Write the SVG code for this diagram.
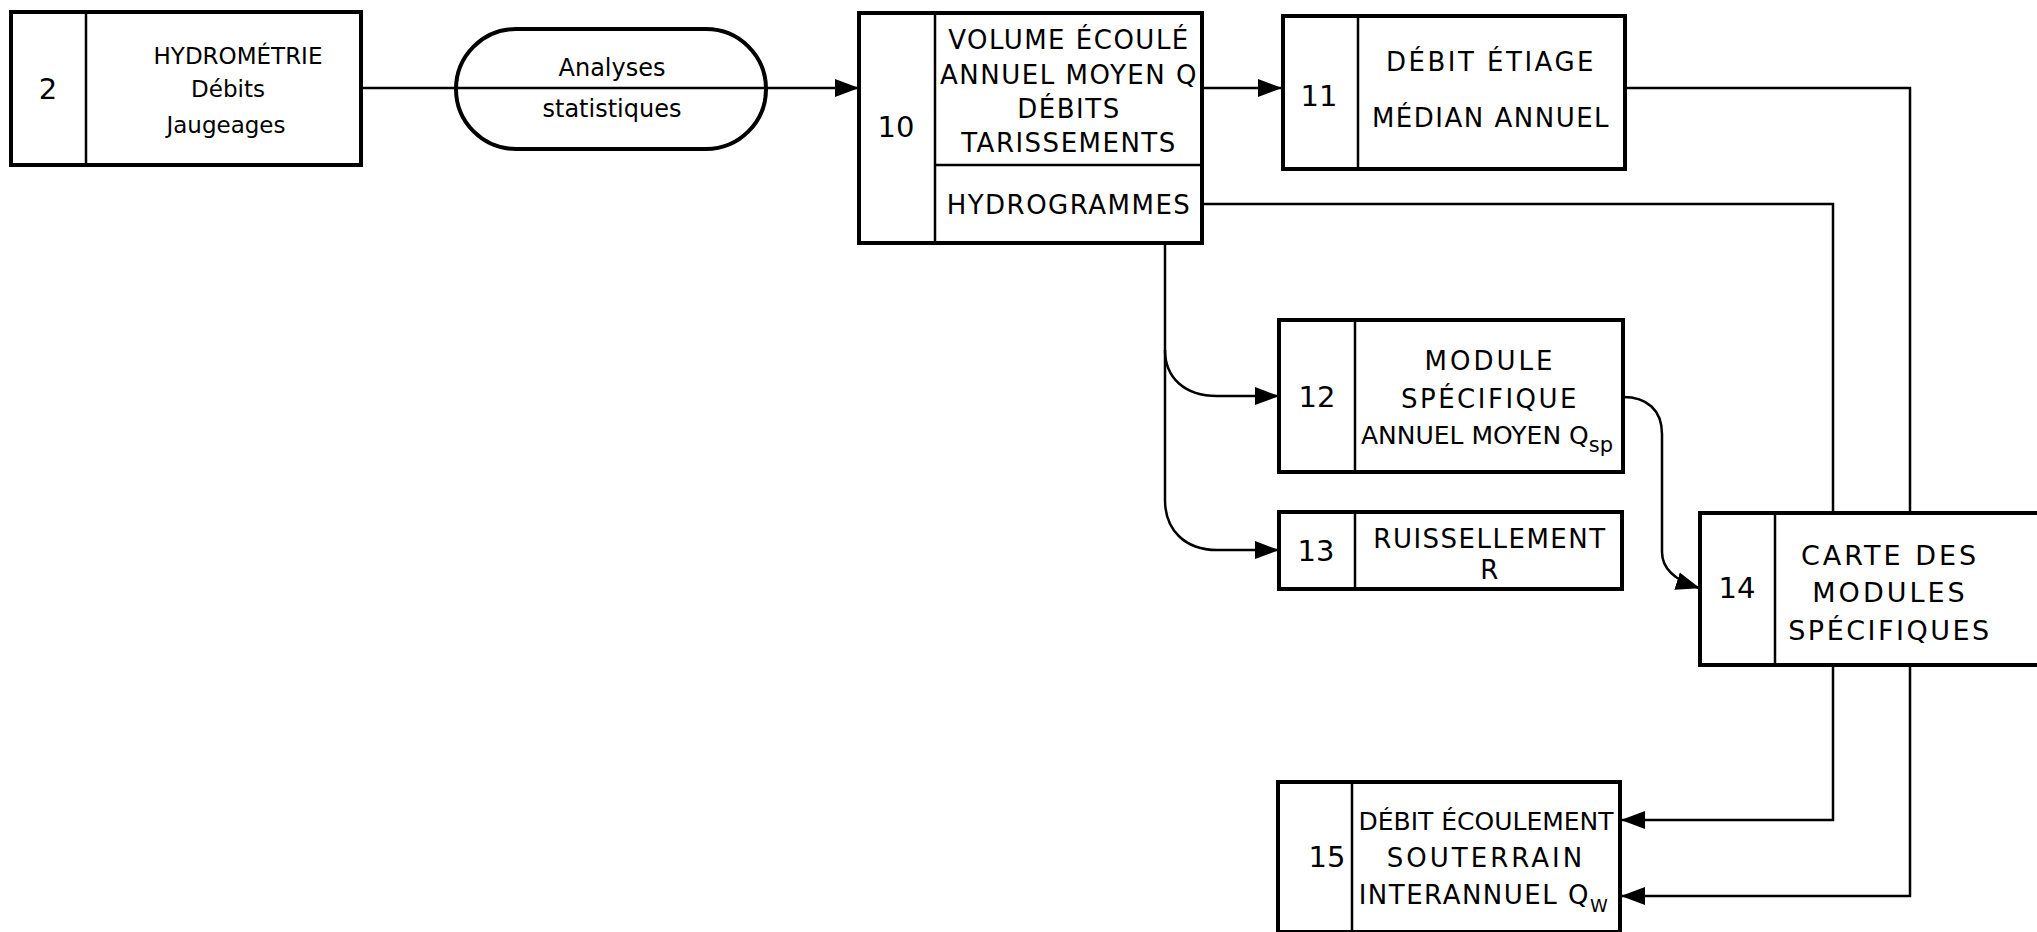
<svg xmlns="http://www.w3.org/2000/svg" width="2037" height="932" viewBox="0 0 2037 932">
<defs>
<style>
.box{fill:#fff;stroke:#000;stroke-width:4}
.div{stroke:#000;stroke-width:2.5;fill:none}
.con{stroke:#000;stroke-width:2.5;fill:none}
.t{font-family:"DejaVu Sans",sans-serif;font-size:26px;fill:#000;text-anchor:middle;letter-spacing:1.5px}
.s{font-family:"DejaVu Sans",sans-serif;font-size:22px;fill:#000;text-anchor:middle}
.n{font-family:"DejaVu Sans",sans-serif;font-size:29px;fill:#000;text-anchor:middle}
</style>
<marker id="ah" markerUnits="userSpaceOnUse" markerWidth="24" markerHeight="20" viewBox="0 0 24 20" refX="23" refY="10" orient="auto">
<path d="M0,1 L24,10 L0,19 Z" fill="#000"/>
</marker>
</defs>
<rect width="2037" height="932" fill="#fff"/>

<g id="connectors">
<line class="con" x1="361" y1="88" x2="858" y2="88" marker-end="url(#ah)"/>
<line class="con" x1="1202" y1="88" x2="1281" y2="88" marker-end="url(#ah)"/>
<path class="con" d="M1625,88 L1910,88 L1910,513"/>
<path class="con" d="M1202,204 L1833,204 L1833,513"/>
<path class="con" d="M1165,243 L1165,500 C1165,530 1185,550 1217,550 L1278,550" marker-end="url(#ah)"/>
<path class="con" d="M1165,350 C1165,378 1185,396 1217,396 L1278,396" marker-end="url(#ah)"/>
<path class="con" d="M1623,397 C1647,397 1662,410 1662,434 L1662,552 C1662,572 1680,582 1699,588" marker-end="url(#ah)"/>
<path class="con" d="M1833,665 L1833,820 L1622,820" marker-end="url(#ah)"/>
<path class="con" d="M1910,665 L1910,896 L1622,896" marker-end="url(#ah)"/>
</g>

<g id="node2">
<rect class="box" x="11" y="12" width="350" height="153"/>
<line class="div" x1="86" y1="12" x2="86" y2="165"/>
<text class="n" x="48" y="99">2</text>
<text class="s" x="238" y="64" style="font-size:23px">HYDROMÉTRIE</text>
<text class="s" x="228" y="97" style="font-size:23px">Débits</text>
<text class="s" x="226" y="133" style="font-size:23px">Jaugeages</text>
</g>

<g id="analyses">
<rect x="456" y="29" width="310" height="120" rx="60" ry="60" fill="none" stroke="#000" stroke-width="4"/>
<text class="s" x="612" y="76" style="font-size:24px">Analyses</text>
<text class="s" x="612" y="117" style="font-size:24px">statistiques</text>
</g>

<g id="node10">
<rect class="box" x="859" y="13" width="343" height="230"/>
<line class="div" x1="935" y1="13" x2="935" y2="243"/>
<line class="div" x1="935" y1="165" x2="1202" y2="165"/>
<text class="n" x="896" y="137">10</text>
<text class="t" x="1069" y="49">VOLUME ÉCOULÉ</text>
<text class="t" x="1069" y="84">ANNUEL MOYEN Q</text>
<text class="t" x="1069" y="118">DÉBITS</text>
<text class="t" x="1069" y="152">TARISSEMENTS</text>
<text class="t" x="1069" y="214">HYDROGRAMMES</text>
</g>

<g id="node11">
<rect class="box" x="1283" y="16" width="342" height="153"/>
<line class="div" x1="1358" y1="16" x2="1358" y2="169"/>
<text class="n" x="1319" y="106">11</text>
<text class="t" x="1491" y="71" style="letter-spacing:2.5px">DÉBIT  ÉTIAGE</text>
<text class="t" x="1491" y="127">MÉDIAN ANNUEL</text>
</g>

<g id="node12">
<rect class="box" x="1279" y="320" width="344" height="152"/>
<line class="div" x1="1355" y1="320" x2="1355" y2="472"/>
<text class="n" x="1317" y="407">12</text>
<text class="t" x="1490" y="370" style="letter-spacing:3px">MODULE</text>
<text class="t" x="1490" y="408" style="letter-spacing:2.5px">SPÉCIFIQUE</text>
<text class="t" x="1487" y="444" style="letter-spacing:0;font-size:25px">ANNUEL MOYEN Q<tspan dy="8" style="font-size:21px">sp</tspan></text>
</g>

<g id="node13">
<rect class="box" x="1279" y="512" width="343" height="77"/>
<line class="div" x1="1355" y1="512" x2="1355" y2="589"/>
<text class="n" x="1316" y="561">13</text>
<text class="t" x="1490" y="548">RUISSELLEMENT</text>
<text class="t" x="1490" y="579">R</text>
</g>

<g id="node14">
<rect class="box" x="1700" y="513" width="345" height="152"/>
<line class="div" x1="1775" y1="513" x2="1775" y2="665"/>
<text class="n" x="1737" y="598">14</text>
<text class="t" x="1890" y="565" style="font-size:27px;letter-spacing:3px">CARTE  DES</text>
<text class="t" x="1890" y="602" style="font-size:27px;letter-spacing:3px">MODULES</text>
<text class="t" x="1890" y="640" style="font-size:27px;letter-spacing:2.5px">SPÉCIFIQUES</text>
</g>

<g id="node15">
<rect class="box" x="1278" y="782" width="342" height="150"/>
<line class="div" x1="1352" y1="782" x2="1352" y2="932"/>
<text class="n" x="1327" y="867">15</text>
<text class="t" x="1486" y="830" style="letter-spacing:0;font-size:25px">DÉBIT ÉCOULEMENT</text>
<text class="t" x="1486" y="867" style="letter-spacing:3px">SOUTERRAIN</text>
<text class="t" x="1484" y="904">INTERANNUEL  Q<tspan dy="8" style="font-size:18px">W</tspan></text>
</g>
</svg>
